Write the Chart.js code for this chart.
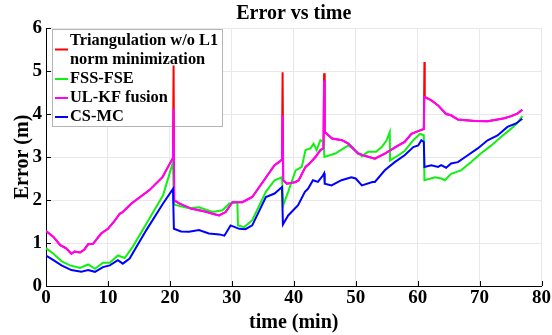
<!DOCTYPE html>
<html>
<head>
<meta charset="utf-8">
<script src="https://cdn.jsdelivr.net/npm/chart.js@4.4.1/dist/chart.umd.min.js"></script>
<style>
  html, body { margin: 0; padding: 0; background: #fff; }
  #wrap { width: 552px; height: 335px; position: relative; }
</style>
</head>
<body>
<div id="wrap"><canvas id="my-chart"></canvas></div>
<script>
'use strict';

// ************** Data ***************

let xTicks = [0, 10, 20, 30, 40, 50, 60, 70, 80];
let yTicks = [0, 1, 2, 3, 4, 5, 6];

let seriesNames = ['Triangulation w/o L1 norm minimization', 'FSS-FSE', 'UL-KF fusion', 'CS-MC'];
let legendLines = [['Triangulation w/o L1', 'norm minimization'], ['FSS-FSE'], ['UL-KF fusion'], ['CS-MC']];
let seriesColors = ['#ff0000', '#11f011', '#ff00ff', '#0000ff'];

let triX = [0, 1.2, 2.3, 3.2, 4.1, 4.6, 5.5, 6.2, 6.8, 7.6, 8.9, 10, 11, 11.9, 12.4, 13.8, 15.2, 16.7, 18.8, 20.5,
  20.6, 20.7, 21.5, 23.4, 24.7, 26, 26.9, 27.95, 29, 30.1, 31.7, 33.3, 35.4, 36.9, 37.6, 38.1,
  38.2, 38.3, 38.9, 40.3, 40.8, 41.9, 42.5, 43.5, 44.3, 44.8,
  44.9, 45, 46.2, 47.8, 48.8, 50.4, 51.2, 53.1, 54.7, 56.1, 56.9, 57.9, 59, 60.4, 61,
  61.1, 61.15, 62.2, 63.3, 64.6, 65.4, 66.5, 69.2, 71.3, 72.9, 74, 75.1, 76.1, 76.9];
let triY = [1.28, 1.14, 0.95, 0.88, 0.75, 0.8, 0.78, 0.85, 0.97, 0.98, 1.22, 1.33, 1.5, 1.68, 1.72, 1.92, 2.07, 2.23, 2.53, 2.98,
  5.13, 1.99, 1.92, 1.8, 1.76, 1.72, 1.68, 1.64, 1.72, 1.95, 1.95, 2.07, 2.5, 2.81, 2.88, 2.94,
  4.97, 2.46, 2.38, 2.42, 2.46, 2.77, 2.84, 3.0, 3.16, 3.2,
  4.95, 3.58, 3.43, 3.39, 3.31, 3.08, 3.04, 2.96, 3.08, 3.2, 3.27, 3.35, 3.54, 3.62, 3.65,
  5.21, 4.4, 4.32, 4.2, 4.0, 3.97, 3.87, 3.84, 3.83, 3.87, 3.9, 3.95, 4.01, 4.1];

let ulkfX = [0, 1.2, 2.3, 3.2, 4.1, 4.6, 5.5, 6.2, 6.8, 7.6, 8.9, 10, 11, 11.9, 12.4, 13.8, 15.2, 16.7, 18.8, 20.5,
  20.6, 20.7, 21.5, 23.4, 24.7, 26, 26.9, 27.95, 29, 30.1, 31.7, 33.3, 35.4, 36.9, 37.6, 38.1,
  38.2, 38.3, 38.9, 40.3, 40.8, 41.9, 42.5, 43.5, 44.3, 44.8,
  44.9, 45, 46.2, 47.8, 48.8, 50.4, 51.2, 53.1, 54.7, 56.1, 56.9, 57.9, 59, 60.4, 61,
  61.1, 62.2, 63.3, 64.6, 65.4, 66.5, 69.2, 71.3, 72.9, 74, 75.1, 76.1, 76.9];
let ulkfY = [1.28, 1.14, 0.95, 0.88, 0.75, 0.8, 0.78, 0.85, 0.97, 0.98, 1.22, 1.33, 1.5, 1.68, 1.72, 1.92, 2.07, 2.23, 2.53, 2.98,
  4.12, 1.99, 1.92, 1.8, 1.76, 1.72, 1.68, 1.64, 1.72, 1.95, 1.95, 2.07, 2.5, 2.81, 2.88, 2.94,
  3.97, 2.46, 2.38, 2.42, 2.46, 2.77, 2.84, 3.0, 3.16, 3.2,
  4.78, 3.58, 3.43, 3.39, 3.31, 3.08, 3.04, 2.96, 3.08, 3.2, 3.27, 3.35, 3.54, 3.62, 3.65,
  4.4, 4.32, 4.2, 4.0, 3.97, 3.87, 3.84, 3.83, 3.87, 3.9, 3.95, 4.01, 4.1];

let fssX = [0, 1.2, 2.5, 3.85, 5.5, 6.8, 7.9, 9.2, 10.3, 11.6, 12.7, 14, 16.7, 18.9, 20.5,
  20.65, 21, 23.1, 24.7, 26.9, 28.5, 29.6, 30.9, 31, 32, 33.3, 35.5, 36.9, 38.1,
  38.3, 39.1, 40.3, 41.3, 41.9, 42.7, 43.2, 43.7, 44.3, 44.8,
  44.95, 46.7, 48.8, 49.9, 51, 52, 53.3, 54.2, 55, 55.5,
  55.55, 56.9, 57.9, 59.3, 60.4, 61,
  61.1, 62.8, 63.8, 64.4, 65.4, 67, 68.6, 70.2, 71.9, 73.5, 75.1, 76.1, 76.9];
let fssY = [0.88, 0.75, 0.58, 0.48, 0.42, 0.5, 0.4, 0.54, 0.54, 0.71, 0.65, 0.91, 1.57, 2.11, 2.88,
  1.9, 1.88, 1.81, 1.83, 1.72, 1.76, 1.92, 1.95, 1.41, 1.37, 1.53, 2.19, 2.46, 2.53,
  1.88, 2.19, 2.69, 2.77, 3.16, 3.2, 3.31, 3.16, 3.39, 3.35,
  3.0, 3.08, 3.27, 3.16, 3.02, 3.12, 3.12, 3.23, 3.39, 3.58,
  2.92, 3.04, 3.14, 3.39, 3.54, 3.5,
  2.46, 2.53, 2.5, 2.46, 2.61, 2.69, 2.88, 3.08, 3.27, 3.47, 3.66, 3.79, 3.95];

let csmcX = [0, 1.2, 2.5, 4.1, 5.7, 6.8, 7.9, 9.2, 10.3, 11.6, 12.4, 13.5, 16.2, 18.9, 20.5,
  20.65, 21.8, 23.1, 24.7, 26.3, 28, 28.8, 29.8, 31.2, 32.2, 33.3, 35.5, 36.9, 38.1,
  38.25, 39.1, 40.7, 41.8, 42.3, 43.1, 43.9, 44.7, 44.9,
  45, 46.1, 47.7, 49.3, 50, 51, 52.7, 53.1, 54.7, 56.3, 57.9, 59.3, 60.1, 60.6, 61,
  61.1, 62.2, 63.3, 63.8, 64.6, 65.4, 66.5, 68.1, 69.7, 71.3, 72.9, 74.5, 75.9, 76.9];
let csmcY = [0.71, 0.6, 0.48, 0.37, 0.33, 0.37, 0.33, 0.44, 0.48, 0.6, 0.52, 0.64, 1.3, 1.92, 2.26,
  1.33, 1.27, 1.26, 1.3, 1.22, 1.2, 1.17, 1.41, 1.33, 1.32, 1.41, 2.07, 2.15, 2.3,
  1.43, 1.64, 1.88, 2.19, 2.26, 2.46, 2.42, 2.57, 2.62,
  2.38, 2.34, 2.46, 2.53, 2.5, 2.34, 2.42, 2.42, 2.69, 2.88, 3.04, 3.23, 3.27, 3.39, 3.35,
  2.77, 2.81, 2.77, 2.81, 2.75, 2.85, 2.88, 3.04, 3.2, 3.39, 3.5, 3.7, 3.78, 3.89];

// ************** Helpers ***************

let fontFamily = "'Liberation Serif', 'Times New Roman', serif";

function toPoints(xs, ys) {
  let pts = [];
  for (let i = 0; i < xs.length; i++) {
    pts.push({ x: xs[i], y: ys[i] });
  }
  return pts;
}

function makeDataset(i, xs, ys, order) {
  return {
    label: seriesNames[i],
    data: toPoints(xs, ys),
    borderColor: seriesColors[i],
    backgroundColor: seriesColors[i],
    borderWidth: 2,
    pointRadius: 0,
    tension: 0,
    order: order
  };
}

// legend box under the lines, like the original figure
let legendPlugin = {
  id: 'boxLegend',
  beforeDatasetsDraw(chart) {
    let c = chart.ctx;
    c.save();
    c.fillStyle = '#ffffff';
    c.strokeStyle = '#b4b4b4';
    c.lineWidth = 1;
    c.fillRect(52.5, 29.5, 170, 97);
    c.strokeRect(52.5, 29.5, 170, 97);
    c.font = 'bold 16.4px ' + fontFamily;
    c.textBaseline = 'middle';
    c.fillStyle = '#000';
    let rowY = [41, 79, 98, 117];
    for (let i = 0; i < legendLines.length; i++) {
      let lines = legendLines[i];
      let y = rowY[i];
      for (let j = 0; j < lines.length; j++) {
        c.fillText(lines[j], 70, y + j * 19);
      }
      let lineY = lines.length > 1 ? y + 8.5 : y;
      c.strokeStyle = seriesColors[i];
      c.lineWidth = 2;
      c.beginPath();
      c.moveTo(55, lineY);
      c.lineTo(68, lineY);
      c.stroke();
    }
    c.restore();
  },
  afterDraw(chart) {
    let c = chart.ctx;
    let area = chart.chartArea;
    let xs = chart.scales.x;
    let ys = chart.scales.y;
    c.save();
    // inner tick marks
    c.strokeStyle = '#000';
    c.lineWidth = 1;
    c.beginPath();
    for (let i = 0; i < xTicks.length; i++) {
      let px = Math.round(xs.getPixelForValue(xTicks[i])) + 0.5;
      c.moveTo(px, area.bottom);
      c.lineTo(px, area.bottom - 5);
    }
    for (let i = 0; i < yTicks.length; i++) {
      let py = Math.round(ys.getPixelForValue(yTicks[i])) + 0.5;
      c.moveTo(area.left, py);
      c.lineTo(area.left + 5, py);
    }
    c.stroke();
    // title
    c.fillStyle = '#000';
    c.font = 'bold 20px ' + fontFamily;
    c.textAlign = 'center';
    c.textBaseline = 'middle';
    c.fillText('Error vs time', (area.left + area.right) / 2, 14);
    c.restore();
  }
};

// ************** Chart ***************

let ctx = document.getElementById('my-chart').getContext('2d');

let myChartObject = {
  type: 'line',
  data: {
    datasets: [
      makeDataset(0, triX, triY, 4),
      makeDataset(1, fssX, fssY, 3),
      makeDataset(2, ulkfX, ulkfY, 2),
      makeDataset(3, csmcX, csmcY, 1)
    ]
  },
  options: {
    responsive: true,
    maintainAspectRatio: false,
    animation: false,
    layout: { padding: { top: 28, right: 8, left: 0, bottom: 0 } },
    plugins: {
      legend: { display: false },
      title: { display: false },
      tooltip: { enabled: false }
    },
    scales: {
      x: {
        type: 'linear',
        min: 0,
        max: 80,
        afterBuildTicks(scale) {
          scale.ticks = xTicks.map(v => ({ value: v }));
        },
        afterFit(scale) { scale.height = 49; },
        grid: { color: '#e8e8e8', drawTicks: false },
        border: { color: '#000', width: 1 },
        ticks: {
          padding: 1,
          color: '#000',
          font: { family: fontFamily, size: 19, weight: 'bold' },
          maxRotation: 0
        },
        title: {
          display: true,
          text: 'time (min)',
          color: '#000',
          font: { family: fontFamily, size: 20, weight: 'bold' },
          padding: { top: 0, bottom: 0 }
        }
      },
      y: {
        type: 'linear',
        min: 0,
        max: 6,
        afterBuildTicks(scale) {
          scale.ticks = yTicks.map(v => ({ value: v }));
        },
        afterFit(scale) { scale.width = 46; },
        grid: { color: '#e8e8e8', drawTicks: false },
        border: { color: '#000', width: 1 },
        ticks: {
          padding: 4,
          color: '#000',
          font: { family: fontFamily, size: 19, weight: 'bold' }
        },
        title: {
          display: true,
          text: 'Error (m)',
          color: '#000',
          font: { family: fontFamily, size: 20, weight: 'bold' },
          padding: { top: 11, bottom: 0 }
        }
      }
    }
  },
  plugins: [legendPlugin]
};

new Chart(ctx, myChartObject);
</script>
</body>
</html>
